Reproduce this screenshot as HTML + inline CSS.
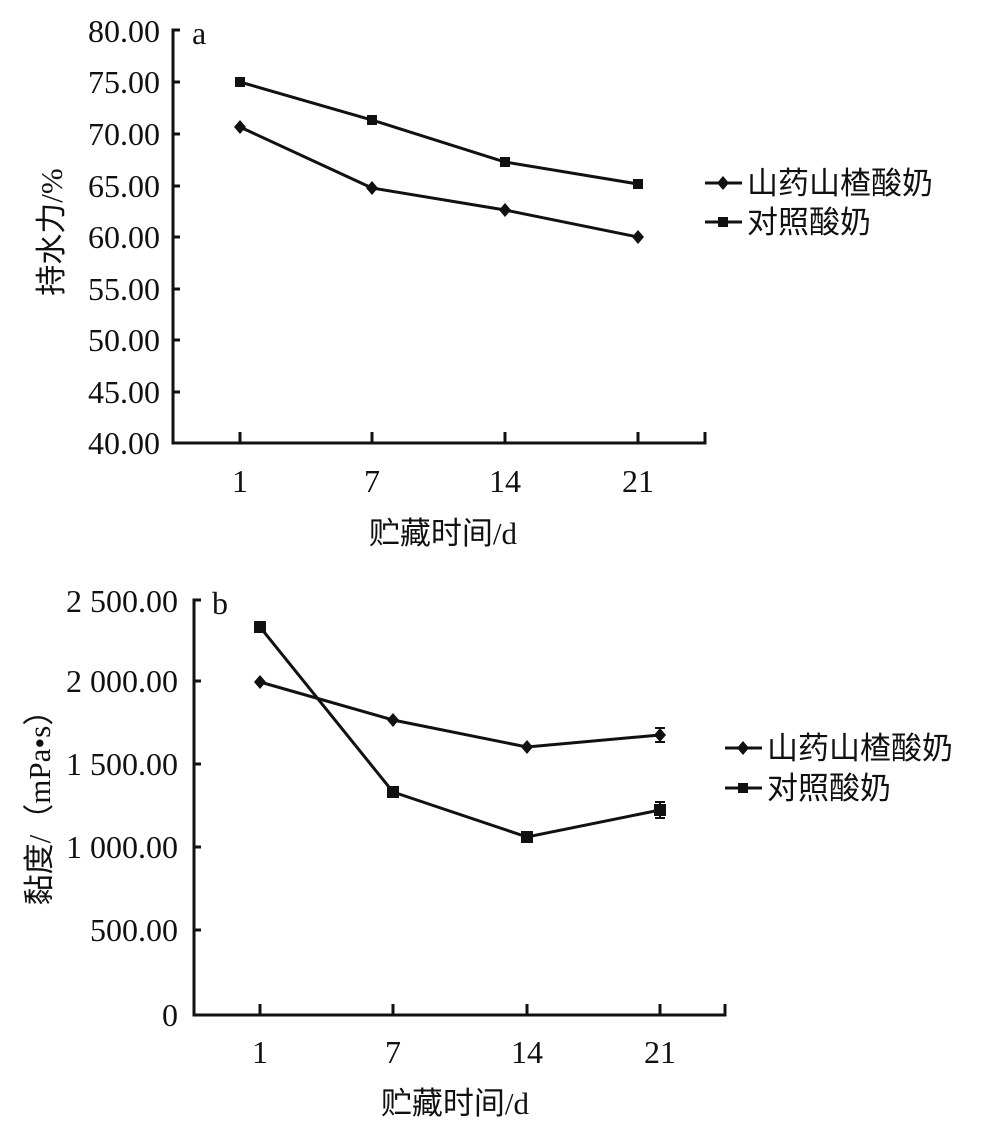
<!DOCTYPE html>
<html><head><meta charset="utf-8"><style>
body{margin:0;background:#fff}
svg{display:block}
text{font-family:"Liberation Serif","Noto Serif CJK SC",serif;fill:#111}
.t{font-size:32px}
.c{font-family:"Liberation Serif","Noto Sans CJK SC",sans-serif;font-size:31px}
</style></head><body>
<svg width="1002" height="1136" viewBox="0 0 1002 1136" xmlns="http://www.w3.org/2000/svg">
<g stroke="#111" stroke-width="3" fill="none">
<polyline points="180,30 173,30 173,443 705,443 705,432"/>
<line x1="240" y1="443" x2="240" y2="432"/><line x1="372" y1="443" x2="372" y2="432"/>
<line x1="505" y1="443" x2="505" y2="432"/><line x1="638" y1="443" x2="638" y2="432"/>
<line x1="173" y1="82" x2="180" y2="82"/><line x1="173" y1="134" x2="180" y2="134"/>
<line x1="173" y1="186" x2="180" y2="186"/><line x1="173" y1="237" x2="180" y2="237"/>
<line x1="173" y1="289" x2="180" y2="289"/><line x1="173" y1="340" x2="180" y2="340"/>
<line x1="173" y1="392" x2="180" y2="392"/>
<polyline points="240,82 372,120 505,162 638,184"/>
<polyline points="240,127 372,188 505,210 638,237"/>
<line x1="705" y1="183" x2="742" y2="183"/><line x1="705" y1="222" x2="742" y2="222"/>
<polyline points="201,600 194,600 194,1015 725,1015 725,1004"/>
<line x1="260" y1="1015" x2="260" y2="1004"/><line x1="393" y1="1015" x2="393" y2="1004"/>
<line x1="527" y1="1015" x2="527" y2="1004"/><line x1="660" y1="1015" x2="660" y2="1004"/>
<line x1="194" y1="681" x2="201" y2="681"/><line x1="194" y1="764" x2="201" y2="764"/>
<line x1="194" y1="847" x2="201" y2="847"/><line x1="194" y1="930" x2="201" y2="930"/>
<polyline points="260,627 393,792 527,837 660,810"/>
<polyline points="260,682 393,720 527,747 660,735"/>
<line x1="725" y1="748" x2="762" y2="748"/><line x1="725" y1="788" x2="762" y2="788"/>
<g stroke-width="2"><line x1="660" y1="728" x2="660" y2="742"/><line x1="655" y1="728" x2="665" y2="728"/><line x1="655" y1="742" x2="665" y2="742"/>
<line x1="660" y1="802" x2="660" y2="818"/><line x1="655" y1="802" x2="665" y2="802"/><line x1="655" y1="818" x2="665" y2="818"/></g>
</g>
<g fill="#111">
<rect x="235" y="77" width="10" height="10"/><rect x="367" y="115" width="10" height="10"/><rect x="500" y="157" width="10" height="10"/><rect x="633" y="179" width="10" height="10"/>
<path d="M240,120l6,7-6,7-6-7z M372,181l6,7-6,7-6-7z M505,203l6,7-6,7-6-7z M638,230l6,7-6,7-6-7z"/>
<path d="M723,176l6,7-6,7-6-7z"/><rect x="718" y="217" width="10" height="10"/>
<rect x="254" y="621" width="12" height="12"/><rect x="387" y="786" width="12" height="12"/><rect x="521" y="831" width="12" height="12"/><rect x="654" y="804" width="12" height="12"/>
<path d="M260,675l6,7-6,7-6-7z M393,713l6,7-6,7-6-7z M527,740l6,7-6,7-6-7z M660,728l6,7-6,7-6-7z"/>
<path d="M743,741l6,7-6,7-6-7z"/><rect x="738" y="783" width="10" height="10"/>
</g>
<g class="t" text-anchor="end">
<text x="160" y="42">80.00</text><text x="160" y="93">75.00</text><text x="160" y="145">70.00</text>
<text x="160" y="197">65.00</text><text x="160" y="248">60.00</text><text x="160" y="300">55.00</text>
<text x="160" y="351">50.00</text><text x="160" y="403">45.00</text><text x="160" y="454">40.00</text>
<text x="178" y="612">2 500.00</text><text x="178" y="692">2 000.00</text><text x="178" y="775">1 500.00</text>
<text x="178" y="858">1 000.00</text><text x="178" y="941">500.00</text><text x="178" y="1026">0</text>
</g>
<g class="t" text-anchor="middle">
<text x="240" y="492">1</text><text x="372" y="492">7</text><text x="505" y="492">14</text><text x="638" y="492">21</text>
<text x="260" y="1063">1</text><text x="393" y="1063">7</text><text x="527" y="1063">14</text><text x="660" y="1063">21</text>
</g>
<text class="t" x="192" y="44">a</text><text class="t" x="212" y="614">b</text>
<text class="c" x="443" y="544" text-anchor="middle">贮藏时间/d</text>
<text class="c" x="455" y="1114" text-anchor="middle">贮藏时间/d</text>
<text class="c" x="747" y="194">山药山楂酸奶</text><text class="c" x="747" y="233">对照酸奶</text>
<text class="c" x="767" y="759">山药山楂酸奶</text><text class="c" x="767" y="799">对照酸奶</text>
<text class="c" transform="translate(62,232) rotate(-90)" text-anchor="middle">持水力/%</text>
<text class="c" transform="translate(50,800) rotate(-90)" text-anchor="middle">黏度/（mPa•s）</text>
</svg>
</body></html>
